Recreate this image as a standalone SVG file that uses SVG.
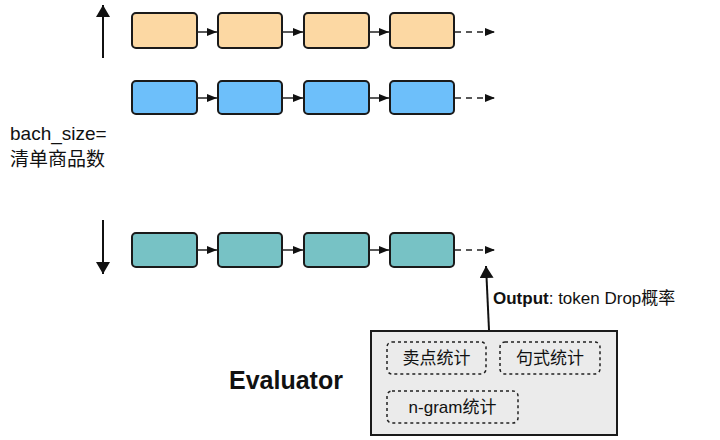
<svg xmlns="http://www.w3.org/2000/svg" width="720" height="440" viewBox="0 0 720 440">
<defs>
<marker id="ah" markerWidth="10" markerHeight="8" refX="10" refY="4" orient="auto" markerUnits="userSpaceOnUse"><path d="M0,0 L10,4 L0,8 Z" fill="#111"/></marker>
<marker id="ahb" markerWidth="12" markerHeight="14" refX="12" refY="7" orient="auto" markerUnits="userSpaceOnUse"><path d="M0,0 L12,7 L0,14 Z" fill="#111"/></marker>
<style>
.cell{stroke:#1a1a1a;stroke-width:2}
.o{fill:#fcd8a3}.b{fill:#6dbffa}.t{fill:#77c2c5}
.ln{stroke:#222;stroke-width:1.5;fill:none}
.dl{stroke:#222;stroke-width:1.5;fill:none;stroke-dasharray:6 5}
.big{stroke:#111;stroke-width:2;fill:none}
.txt{font-family:"Liberation Sans","Noto Sans CJK SC",sans-serif;fill:#111}
.db{fill:none;stroke:#222;stroke-width:1.5;stroke-dasharray:3 3}
</style>
</defs>
<g id="row1">
<rect class="cell o" x="132" y="13" width="65" height="35" rx="4"/>
<rect class="cell o" x="218" y="13" width="64" height="35" rx="4"/>
<rect class="cell o" x="304" y="13" width="65" height="35" rx="4"/>
<rect class="cell o" x="390" y="13" width="64" height="35" rx="4"/>
</g>
<g id="row2">
<rect class="cell b" x="132" y="81" width="65" height="33" rx="4"/>
<rect class="cell b" x="218" y="81" width="64" height="33" rx="4"/>
<rect class="cell b" x="304" y="81" width="65" height="33" rx="4"/>
<rect class="cell b" x="390" y="81" width="64" height="33" rx="4"/>
</g>
<g id="row3">
<rect class="cell t" x="132" y="233" width="65" height="34" rx="4"/>
<rect class="cell t" x="218" y="233" width="64" height="34" rx="4"/>
<rect class="cell t" x="304" y="233" width="65" height="34" rx="4"/>
<rect class="cell t" x="390" y="233" width="64" height="34" rx="4"/>
</g>
<g id="evaluator">
<rect x="371" y="331" width="246" height="104" fill="#ebebeb" stroke="#1a1a1a" stroke-width="2"/>
<rect class="db" x="387" y="342" width="99" height="32" rx="5"/>
<rect class="db" x="500" y="342" width="100" height="32" rx="5"/>
<rect class="db" x="387" y="391" width="131" height="32" rx="5"/>
<text class="txt" x="436.5" y="364" font-size="17" text-anchor="middle">卖点统计</text>
<text class="txt" x="550" y="364" font-size="17" text-anchor="middle">句式统计</text>
<text class="txt" x="452.5" y="413" font-size="17" text-anchor="middle">n-gram统计</text>
<text class="txt" x="229" y="389" font-size="25" font-weight="bold">Evaluator</text>
</g>
<g id="labels">
<text class="txt" x="10" y="140" font-size="19">bach_size=</text>
<text class="txt" x="10" y="166" font-size="19">清单商品数</text>
<text class="txt" x="493" y="304" font-size="17"><tspan font-weight="bold">Output</tspan>: token Drop概率</text>
</g>
<g id="connectors">
<line class="ln" x1="197" y1="32" x2="217" y2="32" marker-end="url(#ah)"/>
<line class="ln" x1="282" y1="32" x2="303" y2="32" marker-end="url(#ah)"/>
<line class="ln" x1="369" y1="32" x2="389" y2="32" marker-end="url(#ah)"/>
<line class="dl" x1="455" y1="32" x2="495" y2="32" marker-end="url(#ah)"/>
<line class="ln" x1="197" y1="98" x2="217" y2="98" marker-end="url(#ah)"/>
<line class="ln" x1="282" y1="98" x2="303" y2="98" marker-end="url(#ah)"/>
<line class="ln" x1="369" y1="98" x2="389" y2="98" marker-end="url(#ah)"/>
<line class="dl" x1="455" y1="98" x2="495" y2="98" marker-end="url(#ah)"/>
<line class="ln" x1="197" y1="250" x2="217" y2="250" marker-end="url(#ah)"/>
<line class="ln" x1="282" y1="250" x2="303" y2="250" marker-end="url(#ah)"/>
<line class="ln" x1="369" y1="250" x2="389" y2="250" marker-end="url(#ah)"/>
<line class="dl" x1="455" y1="250" x2="495" y2="250" marker-end="url(#ah)"/>
<line class="big" x1="103" y1="58" x2="103" y2="5" marker-end="url(#ahb)"/>
<line class="big" x1="103" y1="220" x2="103" y2="274" marker-end="url(#ahb)"/>
<line class="big" x1="489" y1="330" x2="486" y2="266" marker-end="url(#ahb)"/>
</g>
</svg>
